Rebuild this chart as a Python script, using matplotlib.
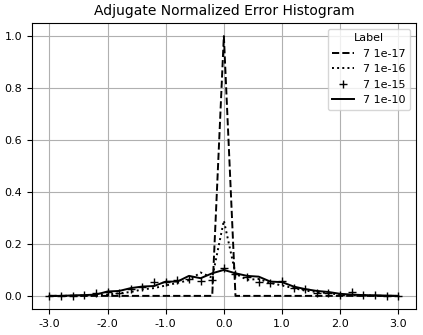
import numpy as np
import matplotlib
matplotlib.use("Agg")
import matplotlib.pyplot as plt

x = np.round(np.arange(-3.0, 3.0001, 0.2), 1)

labels = ["7 1e-17", "7 1e-16", "7 1e-15", "7 1e-10"]

y_17 = [0, 0, 0, 0, 0, 0, 0, 0, 0, 0, 0, 0, 0, 0, 0, 1.0,
        0, 0, 0, 0, 0, 0, 0, 0, 0, 0, 0, 0, 0, 0, 0]

y_16 = [0.0, 0.0, 0.0, 0.001, 0.002, 0.005, 0.01, 0.015, 0.025, 0.03, 0.04,
        0.05, 0.06, 0.09, 0.07, 0.29, 0.085, 0.062, 0.065, 0.05, 0.04, 0.03,
        0.02, 0.015, 0.01, 0.005, 0.003, 0.002, 0.001, 0.0, 0.0]

y_15 = [0.0, 0.0, 0.0, 0.002, 0.01, 0.015, 0.012, 0.025, 0.035, 0.052, 0.055,
        0.06, 0.065, 0.058, 0.062, 0.108, 0.085, 0.072, 0.055, 0.05, 0.058,
        0.03, 0.025, 0.012, 0.01, 0.005, 0.015, 0.003, 0.002, 0.001, 0.0]

y_10 = [0.0, 0.0, 0.002, 0.003, 0.005, 0.017, 0.019, 0.03, 0.036, 0.038,
        0.055, 0.055, 0.077, 0.068, 0.087, 0.1, 0.087, 0.077, 0.074, 0.055,
        0.053, 0.036, 0.026, 0.019, 0.015, 0.008, 0.005, 0.003, 0.002,
        0.001, 0.0]

fig = plt.figure(figsize=(4.23, 3.35), dpi=100)
ax = fig.add_axes([0.0757, 0.078, 0.907, 0.853])

ax.plot(x, y_17, color="black", linestyle="--", linewidth=1.4, label=labels[0])
ax.plot(x, y_16, color="black", linestyle=":", linewidth=1.4, label=labels[1])
ax.plot(x, y_15, color="black", linestyle="none", marker="+", markersize=6, label=labels[2])
ax.plot(x, y_10, color="black", linestyle="-", linewidth=1.4, label=labels[3])

ax.set_xticks(np.arange(-3, 3.01, 1.0))
ax.set_xticklabels([f"{v:.1f}" for v in np.arange(-3, 3.01, 1.0)])
ax.set_yticks(np.arange(0, 1.01, 0.2))
ax.tick_params(labelsize=8)
ax.grid(True)
ax.set_axisbelow(True)
ax.set_title("Adjugate Normalized Error Histogram", fontsize=10)
ax.legend(title="Label", loc="upper right", fontsize=8, title_fontsize=8)

fig.savefig("out.png", dpi=100)
